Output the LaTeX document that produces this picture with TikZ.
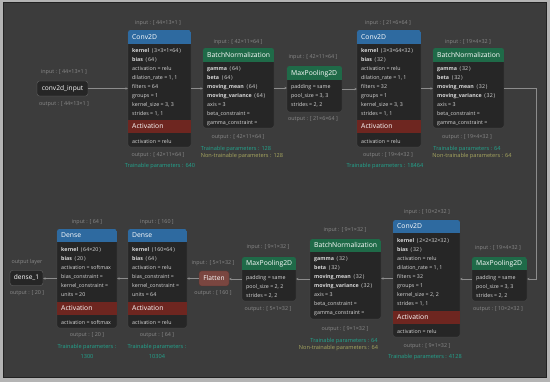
\documentclass[tikz,border=0pt]{standalone}
\usepackage{fontspec}
\setmainfont{Open Sans}
\usetikzlibrary{arrows.meta}
\definecolor{outerbg}{HTML}{B4B4B4}
\definecolor{panel}{HTML}{3C3C3C}
\definecolor{panelline}{HTML}{222222}
\definecolor{boxfill}{HTML}{262626}
\definecolor{hdrblue}{HTML}{2E6AA0}
\definecolor{hdrgreen}{HTML}{1F6A48}
\definecolor{actred}{HTML}{6E2620}
\definecolor{flatfill}{HTML}{7A4640}
\definecolor{bodytext}{HTML}{DADADA}
\definecolor{iotext}{HTML}{8A8A8A}
\definecolor{tealtext}{HTML}{22A58E}
\definecolor{olivetext}{HTML}{A8A860}
\definecolor{wirecol}{HTML}{8C8C8C}
\tikzset{
 body/.style={fill=boxfill, draw=black!70, line width=0.3pt, rounded corners=2.5pt, inner sep=0pt, outer sep=0pt},
 txt/.style={text=bodytext, font=\fontsize{5.3}{6}\selectfont, inner sep=0pt},
 hdtxt/.style={text=white, font=\fontsize{6.8}{8}\selectfont, inner sep=0pt},
 io/.style={text=iotext, font=\fontsize{5.4}{6}\selectfont, inner sep=0pt},
 tp/.style={text=tealtext, font=\fontsize{5.6}{6}\selectfont, inner sep=0pt},
 ntp/.style={text=olivetext, font=\fontsize{5.6}{6}\selectfont, inner sep=0pt},
 endbox/.style={fill=boxfill, draw=gray!80!black, line width=0.4pt, rounded corners=2.5pt, text=white, font=\fontsize{6.6}{8}\selectfont, inner sep=0pt, outer sep=0pt},
 flatbox/.style={fill=flatfill, draw=flatfill!70!black, line width=0.3pt, rounded corners=2.5pt, text=white, font=\fontsize{6.6}{8}\selectfont, inner sep=0pt, outer sep=0pt},
 wire/.style={draw=wirecol, line width=0.6pt, -{Stealth[length=2.6pt,width=2.4pt]}},
}
\newcommand{\mkbox}[8]{%
  \node[body, anchor=north west, minimum width={#4pt-#2pt}, minimum height={#5pt-#3pt}] (#1) at (#2,#3) {};
  \begin{scope}
    \clip[rounded corners=2.5pt] (#2,#3) rectangle (#4,#5);
    \fill[#7] (#2,#3) rectangle (#4,#6);
  \end{scope}
  \node[hdtxt, anchor=base west] (#1h) at ({#2+4},{#6-4.5}) {#8};
}
\newcommand{\actband}[6]{%
  \fill[actred] (#2,#4) rectangle (#3,#5);
  \node[hdtxt, anchor=base west] (#1) at ({#2+4},{#5-4.2}) {#6};
}
\newcommand{\layerlines}[4]{%
  \foreach \ltext [count=\lidx] in {#4} {\node[txt, anchor=base west] (#1\lidx) at (#2,{#3+9*(\lidx-1)}) {\ltext};}
}
\newcommand{\pv}[1]{\enspace(\,#1\,)}
\begin{document}
\begin{tikzpicture}[x=1pt,y=-1pt]
\useasboundingbox (0,0) rectangle (550,382);
\fill[outerbg] (0,0) rectangle (550,382);
\filldraw[fill=panel, draw=panelline, line width=1pt] (3,3) rectangle (546,378);

% ---------- top row ----------
\node[endbox, minimum width=51pt, minimum height=15pt] (in0) at (62.5,88.5) {conv2d\_input};
\node[io] (in0i) at (64,72) {input : [ 44×13×1 ]};
\node[io] (in0o) at (64,104) {output : [ 44×13×1 ]};

% Conv2D 1
\mkbox{c1}{128}{30}{191}{147}{44}{hdrblue}{Conv2D}
\layerlines{c1l}{132}{52.6}{{\textbf{kernel}\pv{3×3×1×64}},{\textbf{bias}\pv{64}},{activation = relu},{dilation\_rate = 1, 1},{filters = 64},{groups = 1},{kernel\_size = 3, 3},{strides = 1, 1}}
\actband{c1a}{128}{191}{120}{133}{Activation}
\node[txt, anchor=base west] (c1z) at (132,143.6) {activation = relu};
\node[io] (c1i) at (158,23) {input : [ 44×13×1 ]};
\node[io] (c1o) at (158,155) {output : [ 42×11×64 ]};
\node[tp] (c1p) at (160,166.5) {Trainable parameters : 640};

% BatchNormalization 1
\mkbox{b1}{203}{48}{274}{128}{62}{hdrgreen}{BatchNormalization}
\layerlines{b1l}{207}{70.6}{{\textbf{gamma}\pv{64}},{\textbf{beta}\pv{64}},{\textbf{moving\_mean}\pv{64}},{\textbf{moving\_variance}\pv{64}},{axis = 3},{beta\_constraint =},{gamma\_constraint =}}
\node[io] (b1i) at (238,42) {input : [ 42×11×64 ]};
\node[io] (b1o) at (238,137) {output : [ 42×11×64 ]};
\node[tp] (b1p) at (236,149) {Trainable parameters : 128};
\node[ntp] (b1n) at (242,156) {Non-trainable parameters : 128};

% MaxPooling2D 1
\mkbox{m1}{287}{66}{342}{112}{80}{hdrgreen}{MaxPooling2D}
\layerlines{m1l}{291}{88.6}{{padding = same},{pool\_size = 3, 3},{strides = 2, 2}}
\node[io] (m1i) at (313,57) {input : [ 42×11×64 ]};
\node[io] (m1o) at (313,119) {output : [ 21×6×64 ]};

% Conv2D 2
\mkbox{c2}{357}{30}{421}{147}{44}{hdrblue}{Conv2D}
\layerlines{c2l}{361}{52.6}{{\textbf{kernel}\pv{3×3×64×32}},{\textbf{bias}\pv{32}},{activation = relu},{dilation\_rate = 1, 1},{filters = 32},{groups = 1},{kernel\_size = 3, 3},{strides = 1, 1}}
\actband{c2a}{357}{421}{120}{133}{Activation}
\node[txt, anchor=base west] (c2z) at (361,143.6) {activation = relu};
\node[io] (c2i) at (388,23) {input : [ 21×6×64 ]};
\node[io] (c2o) at (388,155) {output : [ 19×4×32 ]};
\node[tp] (c2p) at (385,166.5) {Trainable parameters : 18464};

% BatchNormalization 2
\mkbox{b2}{433}{48}{504}{128}{62}{hdrgreen}{BatchNormalization}
\layerlines{b2l}{437}{70.6}{{\textbf{gamma}\pv{32}},{\textbf{beta}\pv{32}},{\textbf{moving\_mean}\pv{32}},{\textbf{moving\_variance}\pv{32}},{axis = 3},{beta\_constraint =},{gamma\_constraint =}}
\node[io] (b2i) at (468,42) {input : [ 19×4×32 ]};
\node[io] (b2o) at (467,137) {output : [ 19×4×32 ]};
\node[tp] (b2p) at (467,149) {Trainable parameters : 64};
\node[ntp] (b2n) at (472,156) {Non-trainable parameters : 64};

% ---------- bottom row ----------
% MaxPooling2D 3
\mkbox{m3}{472}{257}{527}{301}{270}{hdrgreen}{MaxPooling2D}
\layerlines{m3l}{476}{279.6}{{padding = same},{pool\_size = 3, 3},{strides = 2, 2}}
\node[io] (m3i) at (498,248) {input : [ 19×4×32 ]};
\node[io] (m3o) at (498,309) {output : [ 10×2×32 ]};

% Conv2D 3
\mkbox{c3}{393}{220}{460}{337}{233}{hdrblue}{Conv2D}
\layerlines{c3l}{397}{242.6}{{\textbf{kernel}\pv{2×2×32×32}},{\textbf{bias}\pv{32}},{activation = relu},{dilation\_rate = 1, 1},{filters = 32},{groups = 1},{kernel\_size = 2, 2},{strides = 1, 1}}
\actband{c3a}{393}{460}{311}{324}{Activation}
\node[txt, anchor=base west] (c3z) at (397,333.6) {activation = relu};
\node[io] (c3i) at (427,212) {input : [ 10×2×32 ]};
\node[io] (c3o) at (427,346) {output : [ 9×1×32 ]};
\node[tp] (c3p) at (425,357) {Trainable parameters : 4128};

% BatchNormalization 3
\mkbox{b3}{310}{239}{381}{319}{252}{hdrgreen}{BatchNormalization}
\layerlines{b3l}{314}{260.6}{{\textbf{gamma}\pv{32}},{\textbf{beta}\pv{32}},{\textbf{moving\_mean}\pv{32}},{\textbf{moving\_variance}\pv{32}},{axis = 3},{beta\_constraint =},{gamma\_constraint =}}
\node[io] (b3i) at (345,230) {input : [ 9×1×32 ]};
\node[io] (b3o) at (345,329) {output : [ 9×1×32 ]};
\node[tp] (b3p) at (344,341.5) {Trainable parameters : 64};
\node[ntp] (b3n) at (338.5,348) {Non-trainable parameters : 64};

% MaxPooling2D 2
\mkbox{m2}{242}{257}{296}{301}{270}{hdrgreen}{MaxPooling2D}
\layerlines{m2l}{246}{279.6}{{padding = same},{pool\_size = 2, 2},{strides = 2, 2}}
\node[io] (m2i) at (268,247) {input : [ 9×1×32 ]};
\node[io] (m2o) at (268,309) {output : [ 5×1×32 ]};

% Flatten
\node[flatbox, minimum width=30pt, minimum height=15pt] (fl) at (214,278.5) {Flatten};
\node[io] (fli) at (213,263) {input : [ 5×1×32 ]};
\node[io] (flo) at (213,293) {output : [ 160 ]};

% Dense 2
\mkbox{d2}{128}{229}{187}{328}{242}{hdrblue}{Dense}
\layerlines{d2l}{132}{251.6}{{\textbf{kernel}\pv{160×64}},{\textbf{bias}\pv{64}},{activation = relu},{bias\_constraint =},{kernel\_constraint =},{units = 64}}
\actband{d2a}{128}{187}{302}{315}{Activation}
\node[txt, anchor=base west] (d2z) at (132,324.2) {activation = relu};
\node[io] (d2i) at (157,222) {input : [ 160 ]};
\node[io] (d2o) at (157,335) {output : [ 64 ]};
\node[tp] (d2p) at (157,347) {Trainable parameters :};
\node[tp] (d2q) at (157,356.5) {10304};

% Dense 1
\mkbox{d1}{57}{229}{117}{328}{242}{hdrblue}{Dense}
\layerlines{d1l}{61}{251.6}{{\textbf{kernel}\pv{64×20}},{\textbf{bias}\pv{20}},{activation = softmax},{bias\_constraint =},{kernel\_constraint =},{units = 20}}
\actband{d1a}{57}{117}{302}{315}{Activation}
\node[txt, anchor=base west] (d1z) at (61,324.2) {activation = softmax};
\node[io] (d1i) at (87,222) {input : [ 64 ]};
\node[io] (d1o) at (87,335) {output : [ 20 ]};
\node[tp] (d1p) at (87,347) {Trainable parameters :};
\node[tp] (d1q) at (87,356.5) {1300};

% output layer
\node[endbox, minimum width=33pt, minimum height=15pt] (out0) at (26.5,278) {dense\_1};
\node[io] (out0t) at (27,262) {output layer};
\node[io] (out0o) at (27,293) {output : [ 20 ]};

% ---------- connectors ----------
\coordinate (turn) at (536,89);
\draw[wire] (in0.east) -- (in0.east -| c1.west);
\draw[wire] (c1.east) -- (c1.east -| b1.west);
\draw[wire] (b1.east) -- (b1.east -| m1.west);
\draw[wire] (m1.east) -- (m1.east -| c2.west);
\draw[wire] (c2.east) -- (c2.east -| b2.west);
\draw[wire] (b2.east) -- (b2.east -| turn) |- (m3.east);
\draw[wire] (m3.west) -- (m3.west -| c3.east);
\draw[wire] (c3.west) -- (c3.west -| b3.east);
\draw[wire] (b3.west) -- (b3.west -| m2.east);
\draw[wire] (m2.west) -- (m2.west -| fl.east);
\draw[wire] (fl.west) -- (fl.west -| d2.east);
\draw[wire] (d2.west) -- (d2.west -| d1.east);
\draw[wire] (d1.west) -- (d1.west -| out0.east);
\end{tikzpicture}
\end{document}
